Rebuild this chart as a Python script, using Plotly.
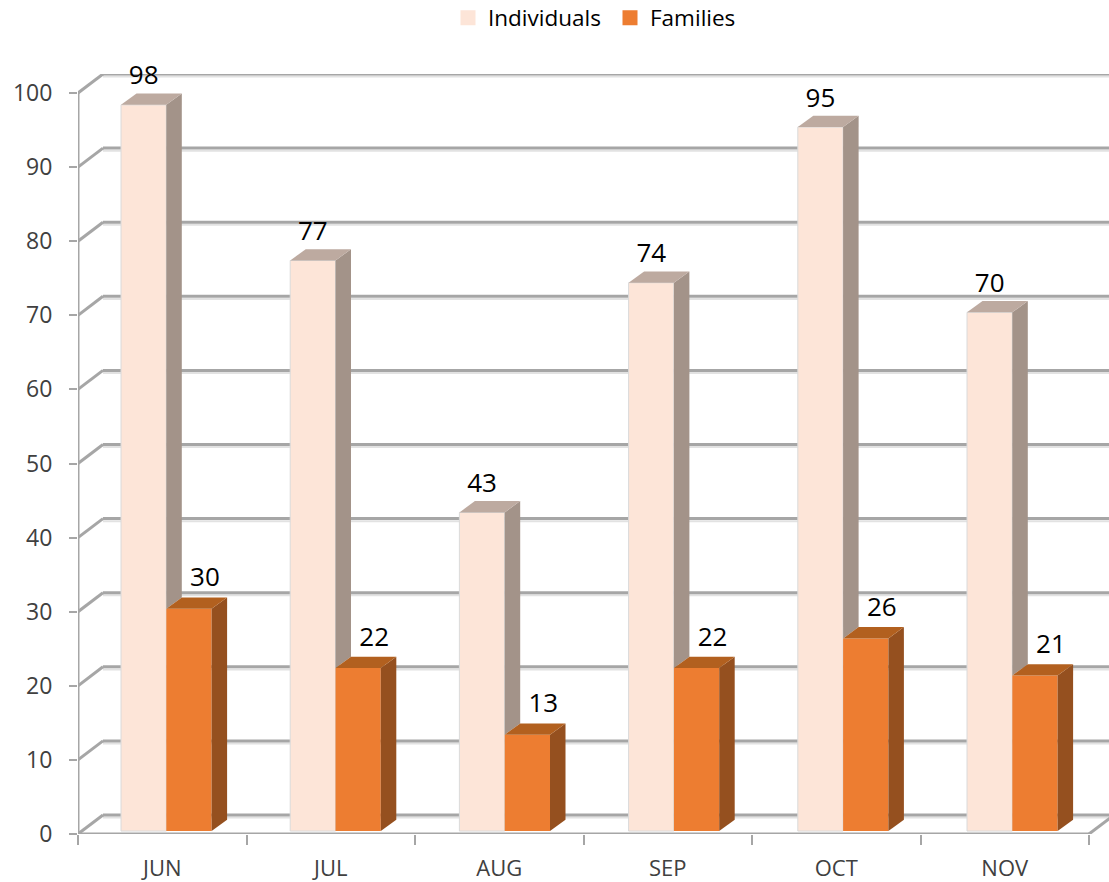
import plotly.graph_objects as go

months = ["JUN", "JUL", "AUG", "SEP", "OCT", "NOV"]
individuals = [98, 77, 43, 74, 95, 70]
families = [30, 22, 13, 22, 26, 21]
y_ticks = list(range(0, 101, 10))

# 3D look, in axis units
CAT_PX, UNIT_PX = 168.5, 7.41
WALL_DX, WALL_DY = 25 / CAT_PX, 19 / UNIT_PX
BAR_DX, BAR_DY = 15.5 / CAT_PX, 11.3 / UNIT_PX
BASE = 0.4
BAR_W = 45.3 / CAT_PX
LEFT = 43 / CAT_PX
STEP = 169.2 / CAT_PX
X_MAX = 1031 / CAT_PX
Y_MAX = 760 / UNIT_PX
GRID = "#A6A6A6"
GRID_SH = "#E2E2E2"
AXIS_FONT = "Open Sans"

IND, IND_SIDE, IND_TOP, IND_EDGE = "#FDE5D8", "#A39389", "#BDAAA0", "#DADADA"
FAM, FAM_SIDE, FAM_TOP = "#ED7D31", "#95501F", "#B2601F"

n = len(months)
centers = [i + 0.5 for i in range(n)]
bar_left = [LEFT + i * STEP for i in range(n)]

shapes = []
def seg(x0, y0, x1, y1, color=GRID, w=3):
    shapes.append(dict(type="line", xref="x", yref="y", x0=x0, y0=y0, x1=x1, y1=y1,
                       line=dict(color=color, width=w), layer="below"))

# soft shadow under wall lines, then the lines
for t in y_ticks:
    seg(WALL_DX, t + WALL_DY - 0.35, X_MAX, t + WALL_DY - 0.35, GRID_SH, 2)
seg(0, -0.35, n, -0.35, GRID_SH, 2)
for t in y_ticks:
    seg(0, t, WALL_DX, t + WALL_DY)
    seg(WALL_DX, t + WALL_DY, X_MAX, t + WALL_DY)
seg(0, 0, 0, y_ticks[-1])
seg(0, 0, n, 0)
seg(n, 0, n + WALL_DX, WALL_DY)

fig = go.Figure()

fig.add_trace(go.Bar(x=bar_left, y=individuals, base=BASE, width=BAR_W, offset=0,
                     marker=dict(color=IND, line=dict(color=IND_EDGE, width=1)),
                     showlegend=False, hoverinfo="skip", name="Individuals"))
fig.add_trace(go.Bar(x=bar_left, y=families, base=BASE, width=BAR_W, offset=BAR_W,
                     marker=dict(color=FAM, line=dict(width=0)),
                     showlegend=False, hoverinfo="skip", name="Families"))

def poly(xs, ys, color):
    fig.add_trace(go.Scatter(x=xs, y=ys, mode="lines", fill="toself", fillcolor=color,
                             line=dict(width=0, color=color), showlegend=False,
                             hoverinfo="skip", cliponaxis=False))

for i in range(n):
    x0 = bar_left[i]
    x1 = x0 + BAR_W
    x2 = x1 + BAR_W
    top_i = individuals[i] + BASE
    top_f = families[i] + BASE
    # individuals: visible side above the families bar, and top
    poly([x1, x1 + BAR_DX, x1 + BAR_DX, x1, x1],
         [top_f, top_f + BAR_DY, top_i + BAR_DY, top_i, top_f], IND_SIDE)
    poly([x0, x1, x1 + BAR_DX, x0 + BAR_DX, x0],
         [top_i, top_i, top_i + BAR_DY, top_i + BAR_DY, top_i], IND_TOP)
    # families: side and top
    poly([x2, x2 + BAR_DX, x2 + BAR_DX, x2, x2],
         [BASE, BASE + BAR_DY, top_f + BAR_DY, top_f, BASE], FAM_SIDE)
    poly([x1, x2, x2 + BAR_DX, x1 + BAR_DX, x1],
         [top_f, top_f, top_f + BAR_DY, top_f + BAR_DY, top_f], FAM_TOP)

# data labels
fig.add_trace(go.Scatter(x=[x + BAR_W / 2 for x in bar_left],
                         y=[v + BASE + 27 / UNIT_PX for v in individuals],
                         text=[str(v) for v in individuals], mode="text",
                         textposition="middle center", cliponaxis=False,
                         textfont=dict(family=AXIS_FONT, size=26, color="#000000"),
                         showlegend=False, hoverinfo="skip"))
fig.add_trace(go.Scatter(x=[x + 1.5 * BAR_W + 16 / CAT_PX for x in bar_left],
                         y=[v + BASE + 29 / UNIT_PX for v in families],
                         text=[str(v) for v in families], mode="text",
                         textposition="middle center", cliponaxis=False,
                         textfont=dict(family=AXIS_FONT, size=26, color="#000000"),
                         showlegend=False, hoverinfo="skip"))

# legend entries
fig.add_trace(go.Scatter(x=[None], y=[None], mode="markers", name="Individuals",
                         marker=dict(symbol="square", size=15, color=IND)))
fig.add_trace(go.Scatter(x=[None], y=[None], mode="markers", name="Families",
                         marker=dict(symbol="square", size=15, color=FAM)))

fig.update_layout(
    width=1109, height=882,
    margin=dict(l=78, r=0, t=74, b=48, autoexpand=False),
    paper_bgcolor="white", plot_bgcolor="white",
    barmode="overlay",
    shapes=shapes,
    showlegend=True,
    legend=dict(orientation="h", x=(448 - 78) / 1031, xref="paper", xanchor="left",
                y=1 + 56 / 760, yanchor="middle", traceorder="normal",
                font=dict(family=AXIS_FONT, size=22.5, color="#000000"),
                entrywidth=117, entrywidthmode="pixels"),
    xaxis=dict(range=[0, X_MAX], tickmode="array", tickvals=centers, ticktext=months,
               ticks="", showgrid=False, zeroline=False, showline=False,
               tickfont=dict(family=AXIS_FONT, size=22, color="#404040"),
               ticklabelstandoff=19,
               minor=dict(tickmode="array", tickvals=list(range(n + 1)), ticks="outside",
                          ticklen=10, tickwidth=1.5, tickcolor=GRID, showgrid=False)),
    yaxis=dict(range=[0, Y_MAX], tickmode="array", tickvals=y_ticks,
               ticks="outside", ticklen=8, tickwidth=1.5, tickcolor=GRID,
               showgrid=False, zeroline=False, showline=False,
               tickfont=dict(family=AXIS_FONT, size=23, color="#404040"),
               ticklabelstandoff=12),
)

fig.write_html("out.html", config={"displayModeBar": False},
               post_script="document.body.style.margin='0';document.documentElement.style.overflow='hidden';")
